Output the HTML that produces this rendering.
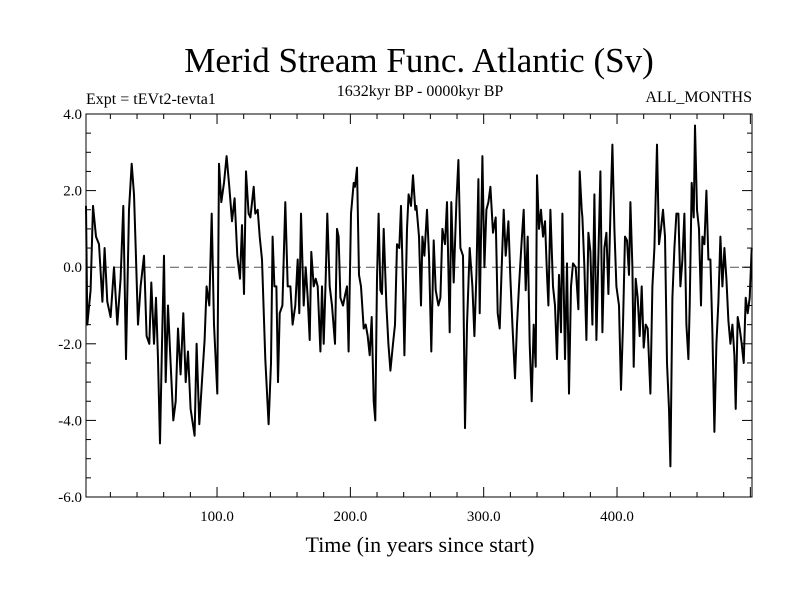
<!DOCTYPE html>
<html><head><meta charset="utf-8"><style>
body{margin:0;background:#fff;}
svg{display:block;font-family:"Liberation Serif",serif;}
</style></head><body>
<svg id="chart" width="800" height="600" viewBox="0 0 800 600">
<text x="419" y="72" font-size="35" text-anchor="middle">Merid Stream Func. Atlantic (Sv)</text>
<text x="86" y="104" font-size="16">Expt = tEVt2-tevta1</text>
<text x="420" y="96" font-size="16" text-anchor="middle">1632kyr BP - 0000kyr BP</text>
<text x="752" y="102" font-size="16" text-anchor="end">ALL_MONTHS</text>
<text x="420" y="552" font-size="22" text-anchor="middle">Time (in years since start)</text>
<g id="axes"></g>
<g id="plot"></g>
</svg>
<script>
const years = [1.7,2.7,5.2,7,9.2,11.5,14,15.7,17.7,20.2,22.7,25.2,27.7,29.7,31.7,34,36,37.7,39,40.7,42.7,45.2,47.2,49.2,50.7,52.7,54.2,55.7,57.2,58.7,60.2,61.5,63.2,65.2,67.2,69,70.7,72.7,74.7,76.5,78.2,80.2,83.2,84.7,86.7,89,90.7,92.2,94.2,96,97.7,100.2,101.5,103.2,105.2,107.2,109.2,111.2,113.2,115.2,117.2,118.7,120.2,121.7,123.7,
125,127.5,128.7,130.5,132,133.7,136.2,138.7,140.5,141.7,143,144.5,145.7,147,149,151.2,153,155,156.7,158.7,160.5,161.7,163,165,166.5,168,169.5,170.7,172.5,174,175.5,177.5,178.7,180,181.5,182.7,184.5,186.2,188.5,190,191.2,192.5,194.5,196.2,197.5,198.7,200.5,202.5,203.5,205,206.5,208,210,211.5,213,214.5,216,217.5,218.7,220,221.2,222.5,223.7,225,227,228.5,230,232,233.5,235,236.7,238,239.5,240.5,242.5,243.7,245.5,247,248.7,
249.5,251.5,253,254,255.5,257.5,259,260.7,262.5,264,266,267.5,269,271,272.5,274.5,275.7,277.5,279.5,281,282.5,284.5,286,287.5,289.5,291.5,293,294.5,296,297,299,300.5,302,303.5,305,307,309,310.5,312,313.5,315,316.5,318.5,320,321.5,323.5,325,326.5,328.5,330,331.5,333,334.5,336,337.5,339,340,341.5,343,344.5,346,347.5,348.5,350,352,353.5,355,356.5,358,359,361,362.5,364,365.5,367,369,371,372,373.5,
374,375.5,377,378.5,380,381.5,383,384.5,386,387.5,389,390.5,392,393.5,395,396.5,398,399.5,401.5,403,404.5,406,407.5,409,410,411.5,412.5,414,415.5,417,418.5,420,421.5,423,425,426.5,428,430,431.5,433,434.5,436,437.5,439,440,441.5,443,444.5,446,447.5,449,450.5,452,453.5,454.5,456,457.5,458.5,460,461.5,463,464,465.5,467,468.5,470,471.5,473,474.5,476,477.5,479,480.5,482,483.5,485,486.5,488,489,490.5,492,493.5,495,496.5,498,499.5,501];
const values = [1.6,-1.5,-0.6,1.6,0.8,0.6,-0.9,0.5,-0.9,-1.3,0.0,-1.5,-0.3,1.6,-2.4,1.5,2.7,1.9,0.5,-1.5,-0.5,0.3,-1.8,-2.0,-0.4,-2.0,-0.8,-2.4,-4.6,-2.0,0.3,-3.0,-1.0,-2.5,-4.0,-3.5,-1.6,-2.8,-1.2,-3.0,-2.2,-3.7,-4.4,-2.0,-4.1,-2.8,-1.9,-0.5,-1.0,1.4,-1.5,-3.3,2.7,1.7,2.2,2.9,2.1,1.2,1.8,0.3,-0.3,1.1,-0.7,2.5,1.4,
1.3,2.1,1.4,1.5,0.8,0.2,-2.4,-4.1,-2.5,0.8,-0.5,-0.5,-3.0,-1.2,-1.0,1.7,-0.5,-0.5,-1.5,-1.0,0.2,-1.2,1.4,-1.0,0.0,-0.8,-1.9,0.4,-0.5,-0.3,-0.5,-2.2,-0.5,-2.0,-0.3,1.4,-0.5,-1.0,-2.0,1.0,0.8,-0.8,-1.0,-0.7,-0.5,-2.2,1.4,2.2,2.1,2.6,-0.2,-0.5,-1.6,-1.5,-1.8,-2.3,-1.3,-3.5,-4.0,-0.3,1.4,-0.6,-0.7,1.0,-1.0,-2.0,-2.7,-2.0,-1.5,0.6,0.5,1.6,-0.5,-2.3,1.0,1.9,1.6,2.4,1.5,
1.6,0.8,-1.0,0.8,0.3,1.5,0.3,-2.2,0.7,-0.6,-1.0,-0.8,1.0,0.6,1.7,-1.7,1.7,-0.4,1.7,2.8,0.5,0.3,-4.2,-1.5,0.5,-0.5,-1.8,-0.2,2.3,-1.2,2.9,0.0,1.5,1.7,2.1,0.9,1.3,-1.2,-1.6,0.0,1.5,0.3,1.2,-0.3,-1.5,-2.9,-1.5,-0.5,0.7,1.5,-0.6,0.8,-2.0,-3.5,-1.5,-2.6,2.4,1.0,1.5,0.8,1.2,-0.2,-1.0,1.5,-0.5,-1.0,-2.4,-0.2,-1.7,1.4,-2.4,0.1,-3.3,-0.5,0.1,0.0,-1.1,2.5,1.5,
1.3,0.0,-1.9,0.9,0.4,-1.5,1.9,-1.9,0.3,2.5,-1.7,0.5,0.9,-0.7,1.4,3.2,1.0,-0.5,-1.0,-3.2,-1.5,0.8,0.7,-0.2,1.7,0.0,-2.6,-0.3,-0.8,-1.8,-0.5,-2.1,-1.5,-1.6,-3.3,-0.5,0.5,3.2,0.6,1.0,1.5,0.8,-2.5,-3.7,-5.2,-0.8,0.5,1.4,1.4,-0.5,0.2,1.4,-1.5,-2.4,-1.0,2.2,1.3,3.7,1.5,1.0,-1.0,0.8,0.6,2.0,0.2,0.2,-1.7,-4.3,-2.0,-0.9,0.8,-0.5,0.5,-0.3,-1.4,-2.0,-1.5,-2.3,-3.7,-1.3,-1.6,-2.0,-2.5,-0.8,-1.2,-0.8,0.5];
const xTicks = [100, 200, 300, 400];
const xTickLabels = ["100.0", "200.0", "300.0", "400.0"];
const yTicks = [4, 2, 0, -2, -4, -6];
const yTickLabels = ["4.0", "2.0", "0.0", "-2.0", "-4.0", "-6.0"];

const L=86,R=752,T=114,B=497;
const xMin=1.7,xMax=501.2,yMin=-6,yMax=4;
const xs=v=>83.7+(v-0)*(133.33/100);
const ys=v=>B-(v-yMin)/(yMax-yMin)*(B-T);
const NS="http://www.w3.org/2000/svg";
const axes=document.getElementById('axes'), plot=document.getElementById('plot');
function mk(tag,attrs,parent){const e=document.createElementNS(NS,tag);for(const k in attrs)e.setAttribute(k,attrs[k]);parent.appendChild(e);return e;}

let f=mk('rect',{x:L,y:T,width:R-L,height:B-T,fill:'none',stroke:'#000','stroke-width':1},axes);



let z=mk('line',{x1:L,x2:R,y1:ys(0),y2:ys(0),stroke:'#555','stroke-width':1,'stroke-dasharray':'9,5'},axes);



// minor y ticks
for(let v=yMin;v<=yMax+1e-9;v+=0.5){
  const y=ys(v), major=Math.abs(v-Math.round(v/2)*2)<1e-9;
  const len=major?10:5;
  let t1=mk('line',{x1:L,x2:L+len,y1:y,y2:y,stroke:'#000'},axes);
  
  
  let t2=mk('line',{x1:R,x2:R-len,y1:y,y2:y,stroke:'#000'},axes);
  
  
}
yTicks.forEach((v,i)=>{
  let t=mk('text',{x:L-4,y:ys(v)+5,'font-size':15,'text-anchor':'end'},axes);
  t.textContent=yTickLabels[i];
  
  
});
for(let v=20;v<=500;v+=20){
  const x=xs(v), major=v%100===0, len=major?10:5;
  let t1=mk('line',{x1:x,x2:x,y1:B,y2:B-len,stroke:'#000'},axes);
  
  
  let t2=mk('line',{x1:x,x2:x,y1:T,y2:T+len,stroke:'#000'},axes);
  
  
}
xTicks.forEach((v,i)=>{
  let t=mk('text',{x:xs(v),y:B+24,'font-size':15,'text-anchor':'middle'},axes);
  t.textContent=xTickLabels[i];
  
  
});
const n=Math.min(years.length,values.length);
let d='';
for(let i=0;i<n;i++){d+=(i?'L':'M')+xs(years[i]).toFixed(1)+','+ys(values[i]).toFixed(1);}
let p=mk('path',{d:d,fill:'none',stroke:'#000','stroke-width':2,'stroke-linejoin':'round'},plot);


</script>
</body></html>
